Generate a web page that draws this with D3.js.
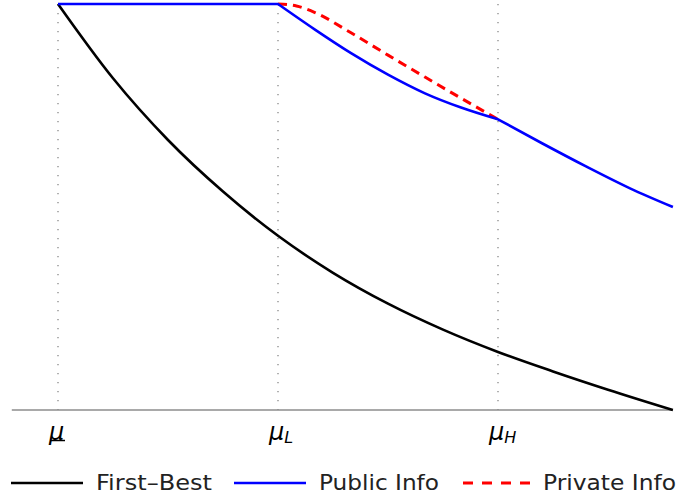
<!DOCTYPE html>
<html><head><meta charset="utf-8">
<script src="https://cdn.jsdelivr.net/npm/d3@7"></script>
<style>body{margin:0;background:#fff}svg{display:block}</style>
</head><body>
<svg id="c" width="681" height="494"></svg>
<script>
// x positions: 0 = μ (lower bound), 1 = μL, 2 = μH
const firstBest = [[0,1.0],[0.25,0.817],[0.5,0.665],[0.75,0.538],[1.0,0.429],[1.25,0.338],[1.5,0.262],[1.75,0.198],[2.0,0.143],[2.25,0.095],[2.5,0.05],[2.795,0.0]];
const publicInfo = [[0,1.0],[1.0,1.0],[1.168,0.937],[1.332,0.879],[1.5,0.826],[1.668,0.780],[1.832,0.745],[2.0,0.716],[2.2,0.657],[2.4,0.600],[2.6,0.546],[2.795,0.5]];
const privateInfo = [[1.0,1.0],[1.084,0.995],[1.168,0.979],[1.332,0.929],[1.5,0.874],[1.668,0.820],[1.832,0.768],[2.0,0.716]];
const breakpoints = [1,2];
const tickValues = [0,1,2];
const tickLabels = [["μ",""],["μ","L"],["μ","H"]];
const seriesNames = ["First–Best","Public Info","Private Info"];
const seriesColors = ["#000000","#0000ff","#ff0000"];

const svg = d3.select("#c");
const x = d3.scaleLinear().domain([0,1]).range([58,278]);
const y = d3.scaleLinear().domain([0,1]).range([410,4]);

// vertical dotted lines
svg.selectAll("line.grid").data(tickValues).join("line")
  .attr("x1",d=>x(d)).attr("x2",d=>x(d)).attr("y1",y(1)).attr("y2",y(0))
  .attr("stroke","#888").attr("stroke-width",1.3).attr("stroke-dasharray","1.3,7.7");

// axis line
svg.append("line").attr("x1",x(-0.21)).attr("x2",x(2.795)).attr("y1",y(0)).attr("y2",y(0))
  .attr("stroke","#8c8c8c").attr("stroke-width",1.6);

const line = d3.line().x(d=>x(d[0])).y(d=>y(d[1])).curve(d3.curveMonotoneX);
// piecewise smooth path with kinks at breakpoints
function pieced(data){
  const cuts = [data[0][0], ...breakpoints.filter(b=>b>data[0][0] && b<data[data.length-1][0]), data[data.length-1][0]];
  let d = "";
  for(let i=0;i<cuts.length-1;i++){
    const seg = data.filter(p=>p[0]>=cuts[i] && p[0]<=cuts[i+1]);
    let s = line(seg);
    if(i>0) s = s.replace(/^M/,"L");
    d += s;
  }
  return d;
}

svg.append("path").attr("d",line(firstBest)).attr("fill","none")
  .attr("stroke",seriesColors[0]).attr("stroke-width",2.6);
svg.append("path").attr("d",line(privateInfo)).attr("fill","none")
  .attr("stroke",seriesColors[2]).attr("stroke-width",3).attr("stroke-dasharray","9,6");
svg.append("path").attr("d",pieced(publicInfo)).attr("fill","none")
  .attr("stroke",seriesColors[1]).attr("stroke-width",2.6).attr("stroke-linejoin","round");

// tick labels
const tl = svg.selectAll("text.tick").data(tickValues).join("text")
  .attr("x",d=>x(d)-9).attr("y",440)
  .attr("font-family","DejaVu Sans").attr("font-style","italic").attr("font-size",24).attr("fill","#000");
tl.append("tspan").text((d,i)=>tickLabels[i][0]);
tl.append("tspan").attr("font-size",16).attr("dy",3).text((d,i)=>tickLabels[i][1]);
// underline for lower bound
svg.append("line").attr("x1",x(0)-7).attr("x2",x(0)+7).attr("y1",440.5).attr("y2",440.5)
  .attr("stroke","#000").attr("stroke-width",1.5);

// legend
const legX = [11,234,463];
const legW = [116,120,133];
const leg = svg.selectAll("g.leg").data(seriesNames).join("g").attr("transform",(d,i)=>`translate(${legX[i]},483)`);
leg.append("line").attr("x1",0).attr("x2",(d,i)=>i==2?68:72).attr("y1",0).attr("y2",0)
  .attr("stroke",(d,i)=>seriesColors[i]).attr("stroke-width",(d,i)=>i==2?3:2.6)
  .attr("stroke-dasharray",(d,i)=>i==2?"10,9":null);
leg.append("text").attr("x",(d,i)=>i==2?80:85).attr("y",6.5).text(d=>d)
  .attr("textLength",(d,i)=>legW[i]).attr("lengthAdjust","spacingAndGlyphs")
  .attr("font-family","DejaVu Sans").attr("font-size",21.5).attr("fill","#222");
</script>
</body></html>
